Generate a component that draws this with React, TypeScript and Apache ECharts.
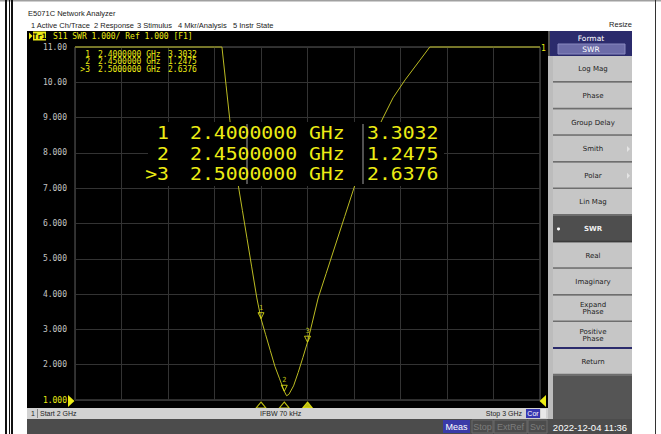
import React, { useEffect, useRef } from "react";
import * as echarts from "echarts";

// Trace S11 SWR, frequency in GHz (values above 11 are shown clipped at the top line)
const freqGHz = [2.0, 2.1, 2.2, 2.3, 2.316, 2.325, 2.333, 2.342, 2.351, 2.36, 2.37, 2.38, 2.391, 2.4, 2.41, 2.42, 2.43, 2.44, 2.45, 2.455, 2.46, 2.47, 2.48, 2.49, 2.5, 2.51, 2.523, 2.54, 2.56, 2.58, 2.602, 2.62, 2.64, 2.66, 2.684, 2.71, 2.742, 2.763, 2.8, 2.9, 3.0];
const swrValues = [11, 11, 11, 11, 11, 9.9, 8.93, 8.0, 7.09, 6.37, 5.57, 4.77, 3.89, 3.3032, 2.85, 2.4, 1.95, 1.6, 1.2475, 1.12, 1.16, 1.4, 1.78, 2.2, 2.6376, 3.18, 3.89, 4.58, 5.39, 6.2, 7.09, 7.7, 8.35, 8.93, 9.56, 10.07, 10.63, 11, 11, 11, 11];

// Markers
const markerFreqs = [2.4, 2.45, 2.5];
const markerVals = [3.3032, 1.2475, 2.6376];
const markerNames = ["1", "2", ">3"];

// Axis
const yTicks = [1, 2, 3, 4, 5, 6, 7, 8, 9, 10, 11];
const headerText = "S11 SWR 1.000/ Ref 1.000 [F1]";
const menuItems = ["1 Active Ch/Trace", "2 Response", "3 Stimulus", "4 Mkr/Analysis", "5 Instr State"];
const menuX = [31, 94, 137, 178, 233];
const softkeys = ["Log Mag", "Phase", "Group Delay", "Smith", "Polar", "Lin Mag", "SWR", "Real", "Imaginary", "Expand\nPhase", "Positive\nPhase", "Return"];

const YEL = "#ecec14";
const MONO = '"DejaVu Sans Mono", monospace';
const SANS = '"Liberation Sans", Arial, sans-serif';
const DSANS = '"DejaVu Sans", sans-serif';

function txt(text: string, x: number, y: number, fill: string, font: string, align = "left", z = 60, lineHeight?: number, sx?: number): any {
  const style: any = { text, fill, font, textAlign: align, textVerticalAlign: "middle" };
  if (lineHeight) style.lineHeight = lineHeight;
  const el: any = { type: "text", x, y, z, silent: true, style };
  if (sx) el.scaleX = sx;
  return el;
}
function rect(x: number, y: number, w: number, h: number, fill: string, z = 1, stroke?: string, lw?: number): any {
  return { type: "rect", z, silent: true, shape: { x, y, width: w, height: h }, style: { fill, stroke: stroke || null, lineWidth: lw || 0 } };
}

export default function App() {
  const ref = useRef<HTMLDivElement>(null);
  useEffect(() => {
    document.body.style.margin = "0";
    const chart = echarts.init(ref.current!, null, { renderer: "svg" });
    const g: any[] = [];
    // window chrome
    g.push(rect(0, 0, 661, 1.5, "#a0a0a0", 1));
    g.push(rect(5, 0, 2, 434, "#111", 1));
    g.push(rect(9, 0, 1, 434, "#111", 1));
    g.push(rect(11, 0, 2, 434, "#111", 1));
    g.push(rect(655, 0, 1, 434, "#333", 1));
    g.push(txt("E5071C Network Analyzer", 28, 13, "#222", "7.5px " + SANS, "left", 5));
    menuItems.forEach((m, i) => g.push(txt(m, menuX[i], 25, "#222", "7.5px " + SANS, "left", 5)));
    g.push(txt("Resize", 632, 24, "#222", "7.5px " + SANS, "right", 5));
    // black instrument area
    g.push(rect(27, 31, 521, 378, "#000", -10));
    // header
    g.push({ type: "polygon", z: 60, silent: true, shape: { points: [[29, 32.5], [32.5, 36], [29, 39.5]] }, style: { fill: YEL } });
    g.push(rect(33, 31.5, 13, 9, YEL, 60));
    g.push(txt("Tr1", 39.5, 36, "#000", "bold 7.5px " + MONO, "center", 61));
    g.push(txt(headerText, 53, 36, YEL, "8px " + MONO, "left"));
    // small marker table (one text block per column)
    const smallY = 54 + 7.6;
    g.push(txt(markerNames.join("\n"), 90, smallY, YEL, "8px " + MONO, "right", 60, 7.6));
    g.push(txt(markerFreqs.map((f) => f.toFixed(7) + " GHz").join("\n"), 98, smallY, YEL, "8px " + MONO, "left", 60, 7.6));
    g.push(txt(markerVals.map((v) => v.toFixed(4)).join("\n"), 168, smallY, YEL, "8px " + MONO, "left", 60, 7.6));
    // big marker table
    g.push(rect(148, 122, 296, 64, "#000", 50));
    g.push(rect(246, 124, 2, 60, "#505050", 51));
    g.push(rect(362, 124, 2, 60, "#505050", 51));
    const bigY = 133 + 20.5;
    const bf = "17.5px " + MONO;
    const bsx = 1.13;
    g.push(txt(markerNames.join("\n"), 169, bigY, YEL, bf, "right", 52, 20.5, bsx));
    g.push(txt(markerFreqs.map((f) => f.toFixed(7) + " GHz").join("\n"), 190, bigY, YEL, bf, "left", 52, 20.5, bsx));
    g.push(txt(markerVals.map((v) => v.toFixed(4)).join("\n"), 367, bigY, YEL, bf, "left", 52, 20.5, bsx));
    // trace label and reference pointers
    g.push(txt("1", 541, 48, YEL, "8px " + MONO, "left"));
    g.push({ type: "polygon", z: 60, silent: true, shape: { points: [[68, 395], [74.5, 401], [68, 407]] }, style: { fill: YEL } });
    g.push({ type: "polygon", z: 60, silent: true, shape: { points: [[546, 395], [539.5, 401], [546, 407]] }, style: { fill: YEL } });
    // status bar
    g.push(rect(27, 408, 521, 11, "#d2d2d2", 5));
    g.push(txt("1", 31, 413.5, "#222", "7px " + SANS));
    g.push(rect(37, 409, 1, 9, "#888", 6));
    g.push(txt("Start 2 GHz", 40, 413.5, "#222", "7px " + SANS));
    g.push(txt("IFBW 70 kHz", 260, 413.5, "#222", "7px " + SANS));
    g.push(txt("Stop 3 GHz", 522, 413.5, "#222", "7px " + SANS, "right"));
    g.push(rect(526, 409, 14, 9, "#3636b0", 6));
    g.push(txt("Cor", 533, 413.5, "#fff", "7px " + SANS, "center"));
    g.push(rect(541, 409, 5, 9, "#e8e8e8", 6));
    // lower bar
    g.push(rect(27, 419, 605, 15, "#4c4c4c", 5));
    g.push(rect(443, 420, 27, 13, "#3a3aa8", 6));
    g.push(txt("Meas", 456.5, 427, "#fff", "9px " + SANS, "center"));
    [["Stop", 472, 21], ["ExtRef", 494, 33], ["Svc", 528, 19]].forEach((b: any) => {
      g.push(rect(b[1], 420, b[2], 13, "#4c4c4c", 6, "#6a6a6a", 1));
      g.push(txt(b[0], b[1] + b[2] / 2, 427, "#7c7c7c", "9px " + SANS, "center"));
    });
    g.push(txt("2022-12-04 11:36", 590, 427, "#ffffff", "9.5px " + SANS, "center"));
    // softkey panel
    g.push(rect(548, 31, 84, 388, "#555555", 5));
    g.push(rect(548, 56, 5, 363, "#bcbcbc", 6));
    g.push(rect(550, 31, 82, 25, "#2b2b6c", 6));
    g.push(txt("Format", 591, 38.5, "#fff", "7.5px " + DSANS, "center"));
    g.push(rect(558, 44, 67, 10, "#6c6ca8", 7, "#8a8ac0", 1));
    g.push(txt("SWR", 591, 49, "#fff", "7.5px " + DSANS, "center", 8));
    const bh = 26.6;
    softkeys.forEach((k, i) => {
      const top = 56 + i * bh;
      const sel = k === "SWR";
      g.push(rect(553, top, 79, bh, sel ? "#4e4e4e" : "#c6c6c6", 7));
      g.push(rect(553, top + bh - 1.5, 79, 1.5, sel ? "#3a3a3a" : "#6e6e6e", 8));
      g.push(txt(k, 593, top + bh / 2, sel ? "#f0f0f0" : "#222", (sel ? "bold " : "") + "7px " + DSANS, "center", 9));
      if (sel) g.push({ type: "circle", z: 9, silent: true, shape: { cx: 558.5, cy: top + bh / 2, r: 1.5 }, style: { fill: "#fff" } });
      if (k === "Smith" || k === "Polar") g.push({ type: "polygon", z: 9, silent: true, shape: { points: [[627, top + bh / 2 - 3], [630, top + bh / 2], [627, top + bh / 2 + 3]] }, style: { fill: "#e4e4e4" } });
    });
    g.push(rect(553, 56 + 11 * bh - 1.5, 79, 2, "#2b2b6c", 10));

    chart.setOption({
      animation: false,
      backgroundColor: "transparent",
      graphic: { elements: g },
      grid: [
        { left: 75, top: 47, width: 465, height: 353, show: true, borderColor: "#5c5c5c", borderWidth: 1, backgroundColor: "transparent" },
        { left: 75, top: 401, width: 465, height: 7 },
      ],
      xAxis: [
        { type: "value", gridIndex: 0, min: 2, max: 3, interval: 0.1, axisLabel: { show: false }, axisTick: { show: false }, axisLine: { show: false }, splitLine: { show: true, lineStyle: { color: "#333333", width: 1 } } },
        { type: "value", gridIndex: 1, min: 2, max: 3, show: false },
      ],
      yAxis: [
        {
          type: "value", gridIndex: 0, min: yTicks[0], max: yTicks[yTicks.length - 1], interval: 1,
          axisLine: { show: false }, axisTick: { show: false },
          splitLine: { show: true, lineStyle: { color: "#333333", width: 1 } },
          axisLabel: {
            margin: 8, fontFamily: MONO, fontSize: 8,
            formatter: (v: number) => v.toPrecision(4),
            color: (v: any) => (Number(v) === 1 ? YEL : "#c4c4c4"),
          },
        },
        { type: "value", gridIndex: 1, min: 0, max: 1, show: false },
      ],
      series: [
        {
          type: "line", xAxisIndex: 0, yAxisIndex: 0, data: freqGHz.map((f, i) => [f, swrValues[i]]),
          symbol: "none", lineStyle: { color: "#bcbc22", width: 1 }, z: 3, clip: false,
        },
        {
          type: "scatter", xAxisIndex: 0, yAxisIndex: 0, clip: false, z: 4,
          data: markerFreqs.map((f, i) => [f, markerVals[i]]),
          symbol: "triangle", symbolRotate: 180, symbolSize: [6, 6], symbolOffset: [0, -3],
          itemStyle: { color: "rgba(0,0,0,0)", borderColor: YEL, borderWidth: 1 },
          label: { show: true, position: "top", distance: 1, color: YEL, fontFamily: MONO, fontSize: 7, formatter: (p: any) => String(p.dataIndex + 1) },
        },
        {
          type: "scatter", xAxisIndex: 1, yAxisIndex: 1, clip: false, z: 4,
          data: markerFreqs.map((f, i) => ({ value: [f, 0], itemStyle: i === 2 ? { color: YEL, borderColor: YEL } : { color: "rgba(0,0,0,0)", borderColor: YEL, borderWidth: 1 } })),
          symbol: "triangle", symbolSize: [10, 6], symbolOffset: [0, -3],
        },
      ],
    });
    return () => chart.dispose();
  }, []);
  return <div ref={ref} style={{ width: 661, height: 434, background: "#ffffff" }} />;
}
